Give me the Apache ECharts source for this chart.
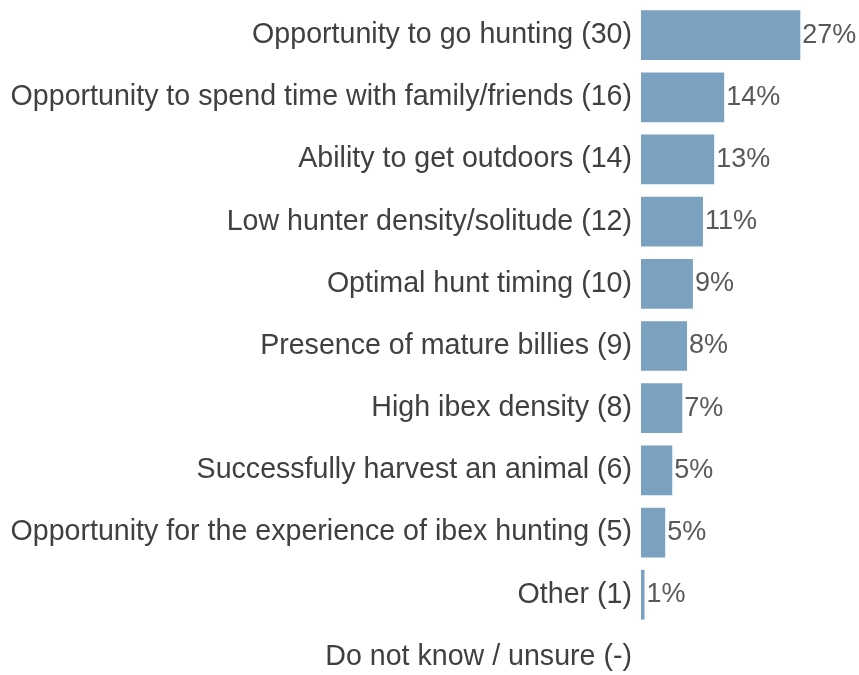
<!DOCTYPE html>
<html>
<head>
<meta charset="utf-8">
<script src="https://cdn.jsdelivr.net/npm/echarts@6/dist/echarts.min.js"></script>
<style>
  html, body { margin: 0; padding: 0; background: #fff; }
  #chart { width: 859px; height: 675px; }
</style>
</head>
<body>
<div id="chart"></div>
<script>
// categories, top to bottom
var categories = [
  'Opportunity to go hunting (30)',
  'Opportunity to spend time with family/friends (16)',
  'Ability to get outdoors (14)',
  'Low hunter density/solitude (12)',
  'Optimal hunt timing (10)',
  'Presence of mature billies (9)',
  'High ibex density (8)',
  'Successfully harvest an animal (6)',
  'Opportunity for the experience of ibex hunting (5)',
  'Other (1)',
  'Do not know / unsure (-)'
]
// bar lengths (percent)
var values = [27, 14.1, 12.4, 10.5, 8.8, 7.8, 7.0, 5.3, 4.1, 0.6, null]
// printed labels
var pctLabels = ['27%', '14%', '13%', '11%', '9%', '8%', '7%', '5%', '5%', '1%', '']

var chart = echarts.init(document.getElementById('chart'))
chart.setOption({
  animation: false,
  textStyle: { fontFamily: 'Liberation Sans, Arial, sans-serif' },
  grid: {
    left: 641,
    right: 41,
    top: 4,
    height: 684,
    outerBoundsMode: 'none'
  },
  xAxis: {
    type: 'value',
    min: 0,
    max: 30,
    show: false
  },
  yAxis: {
    type: 'category',
    inverse: true,
    data: categories,
    axisLine: { show: false },
    axisTick: { show: false },
    splitLine: { show: false },
    axisLabel: {
      color: '#404040',
      fontSize: 28.6,
      margin: 9
    }
  },
  series: [{
    type: 'bar',
    data: values,
    barCategoryGap: '20%',
    itemStyle: {
      color: '#7aa2c0'
    },
    label: {
      show: true,
      position: 'right',
      distance: 2,
      color: '#595959',
      fontSize: 27,
      formatter: function (p) {
        return pctLabels[p.dataIndex]
      }
    }
  }]
})
</script>
</body>
</html>
